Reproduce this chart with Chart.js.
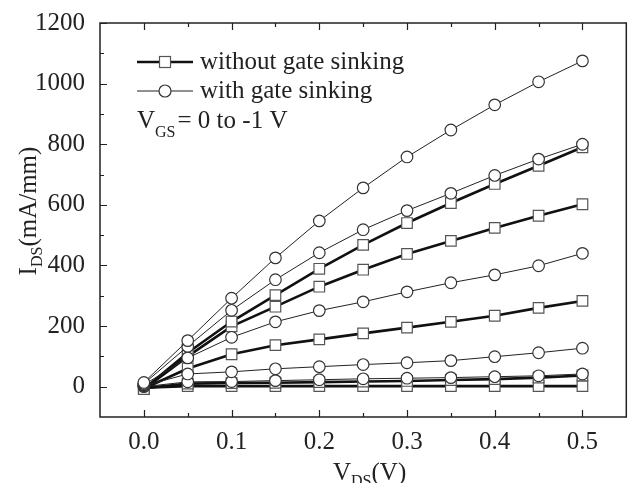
<!DOCTYPE html>
<html>
<head>
<meta charset="utf-8">
<script src="https://cdn.jsdelivr.net/npm/chart.js@4.4.0/dist/chart.umd.min.js"></script>
<style>
html,body{margin:0;padding:0;background:#fff}
#wrap{width:635px;height:483px;position:relative}
</style>
</head>
<body>
<div id="wrap"><canvas id="c"></canvas></div>
<script>
// V_DS sweep (V)
const vds = [0, 0.05, 0.1, 0.15, 0.2, 0.25, 0.3, 0.35, 0.4, 0.45, 0.5];

// with gate sinking (circles), V_GS = 0 .. -1 V
const sinkA = [14, 152, 292, 425, 547, 656, 758, 847, 930, 1006, 1075];
const sinkB = [10, 133, 252, 353, 442, 518, 581, 638, 697, 751, 800];
const sinkC = [6, 95, 163, 214, 251, 280, 313, 343, 369, 399, 440];
const sinkD = [3, 42, 49, 59, 66, 73, 79, 86, 99, 112, 127];
const sinkE = [0, 16, 17, 20, 23, 26, 28, 30, 33, 36, 42];

// without gate sinking (squares)
const plainA = [-8, 112, 215, 302, 389, 468, 540, 606, 669, 729, 790];
const plainB = [-8, 100, 199, 264, 330, 386, 438, 481, 524, 564, 602];
const plainC = [-6, 60, 107, 137, 156, 176, 195, 214, 234, 260, 283];
const plainD = [-5, 10, 12, 13, 15, 17, 19, 22, 25, 30, 37];
const plainE = [-3, 2, 2, 2, 2, 2, 2, 2, 2, 2, 2];

const xTicks = [0, 0.1, 0.2, 0.3, 0.4, 0.5];
const yTicks = [0, 200, 400, 600, 800, 1000, 1200];

const FONT = "'Liberation Serif', 'Times New Roman', serif";
const INK = '#222';

function pts(arr){ return vds.map((x,i)=>({x:x, y:arr[i]})); }

function circleSet(arr){
  return {data:pts(arr), showLine:true, borderColor:INK, borderWidth:1,
    pointStyle:'circle', pointRadius:5.8, pointBorderWidth:1.2,
    pointBackgroundColor:'#fff', pointBorderColor:'#333'};
}
function squareSet(arr){
  return {data:pts(arr), showLine:true, borderColor:'#111', borderWidth:2.6,
    pointStyle:'rect', pointRadius:7.5, pointBorderWidth:1.2,
    pointBackgroundColor:'#fff', pointBorderColor:'#555'};
}

// frame, inward ticks, axis titles and legend
const decor = {
  id:'decor',
  afterDraw(chart){
    const ctx = chart.ctx, a = chart.chartArea;
    const xs = chart.scales.x, ys = chart.scales.y;
    ctx.save();
    ctx.strokeStyle = INK;
    ctx.lineWidth = 1.5;
    ctx.strokeRect(a.left, a.top, a.right-a.left, a.bottom-a.top);
    ctx.lineWidth = 1.2;
    ctx.beginPath();
    for(let v=0; v<=0.5001; v+=0.05){
      const px = Math.round(xs.getPixelForValue(v))+0.5;
      const major = Math.abs(v*10 - Math.round(v*10)) < 1e-6;
      const len = major ? 7 : 4;
      ctx.moveTo(px, a.bottom); ctx.lineTo(px, a.bottom-len);
      ctx.moveTo(px, a.top); ctx.lineTo(px, a.top+len);
    }
    for(let v=0; v<=1200; v+=100){
      const py = Math.round(ys.getPixelForValue(v))+0.5;
      const len = (v%200===0) ? 7 : 4;
      ctx.moveTo(a.left, py); ctx.lineTo(a.left+len, py);
    }
    ctx.stroke();

    ctx.fillStyle = INK;
    ctx.textBaseline = 'alphabetic';
    ctx.textAlign = 'left';

    // y title
    ctx.save();
    ctx.font = '25px '+FONT;
    const wI = ctx.measureText('I').width;
    const wRest = ctx.measureText('(mA/mm)').width;
    ctx.font = '16px '+FONT;
    const wDS = ctx.measureText('DS').width;
    const total = wI + wDS + wRest;
    ctx.translate(36, 211);
    ctx.rotate(-Math.PI/2);
    let cx = -total/2;
    ctx.font = '25px '+FONT; ctx.fillText('I', cx, 0); cx += wI;
    ctx.font = '16px '+FONT; ctx.fillText('DS', cx, 6); cx += wDS;
    ctx.font = '25px '+FONT; ctx.fillText('(mA/mm)', cx, 0);
    ctx.restore();

    // x title
    let tx = 333;
    ctx.font = '25px '+FONT; ctx.fillText('V', tx, 480); tx += ctx.measureText('V').width;
    ctx.font = '16px '+FONT; ctx.fillText('DS', tx, 486); tx += ctx.measureText('DS').width;
    ctx.font = '25px '+FONT; ctx.fillText('(V)', tx, 480);

    // legend
    ctx.strokeStyle = '#111';
    ctx.lineWidth = 2.6;
    ctx.beginPath(); ctx.moveTo(137, 62); ctx.lineTo(193, 62); ctx.stroke();
    ctx.fillStyle = '#fff'; ctx.strokeStyle = '#555'; ctx.lineWidth = 1.2;
    ctx.fillRect(159.5, 56.5, 11, 11); ctx.strokeRect(159.5, 56.5, 11, 11);
    ctx.strokeStyle = INK; ctx.lineWidth = 1;
    ctx.beginPath(); ctx.moveTo(137, 91); ctx.lineTo(193, 91); ctx.stroke();
    ctx.beginPath(); ctx.arc(165, 91, 6, 0, Math.PI*2);
    ctx.fillStyle = '#fff'; ctx.fill(); ctx.strokeStyle = '#333'; ctx.lineWidth = 1.2; ctx.stroke();

    ctx.fillStyle = INK;
    ctx.font = '25px '+FONT;
    ctx.fillText('without gate sinking', 200, 69);
    ctx.fillText('with gate sinking', 200, 98);
    let lx = 137;
    ctx.fillText('V', lx, 128); lx += ctx.measureText('V').width;
    ctx.font = '16px '+FONT; ctx.fillText('GS', lx, 137); lx += ctx.measureText('GS').width + 2;
    ctx.font = '25px '+FONT; ctx.fillText('= 0 to -1 V', lx, 128);
    ctx.restore();
  }
};

new Chart(document.getElementById('c'), {
  type:'scatter',
  data:{datasets:[
    circleSet(sinkA), circleSet(sinkB), circleSet(sinkC), circleSet(sinkD), circleSet(sinkE),
    squareSet(plainA), squareSet(plainB), squareSet(plainC), squareSet(plainD), squareSet(plainE)
  ]},
  options:{
    responsive:true, maintainAspectRatio:false, animation:false,
    layout:{padding:{top:23, right:2, left:0, bottom:0}},
    plugins:{legend:{display:false}, tooltip:{enabled:false}},
    scales:{
      x:{type:'linear', min:-0.05, max:0.55,
        grid:{display:false}, border:{display:false},
        afterBuildTicks(s){ s.ticks = xTicks.map(v=>({value:v})); },
        afterFit(s){ s.height = 66; },
        ticks:{color:INK, padding:2, maxRotation:0, font:{family:FONT, size:25},
          callback:v=>Number(v).toFixed(1)}},
      y:{min:-100, max:1200,
        grid:{display:false}, border:{display:false},
        afterBuildTicks(s){ s.ticks = yTicks.map(v=>({value:v})); },
        afterFit(s){ s.width = 100; },
        ticks:{color:INK, padding:7, font:{family:FONT, size:25},
          callback:v=>String(v)}}
    }
  },
  plugins:[decor]
});
</script>
</body>
</html>
